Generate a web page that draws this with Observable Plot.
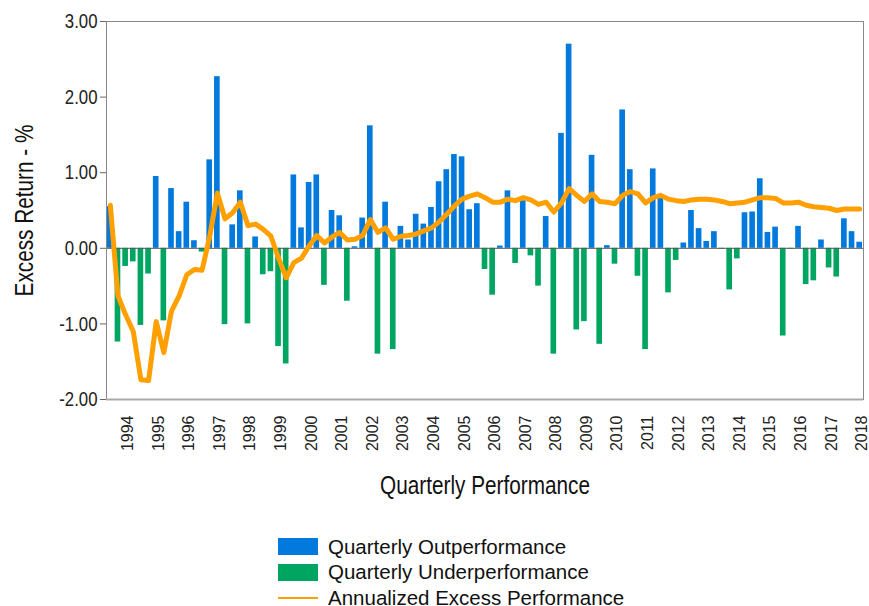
<!DOCTYPE html>
<html><head><meta charset="utf-8">
<script src="https://cdn.jsdelivr.net/npm/d3@7"></script>
<script src="https://cdn.jsdelivr.net/npm/@observablehq/plot@0.6"></script>
<style>
body{margin:0;background:#fff;font-family:"Liberation Sans",Arial,sans-serif;}
#legend{margin-left:278px;margin-top:4px;}
.item{display:flex;align-items:center;height:25.5px;font-size:20.5px;line-height:22px;color:#111;white-space:nowrap;}
.sw{width:40px;height:17px;margin-right:10px;flex:none;}
.ln{width:40px;height:2px;margin-right:10px;flex:none;}
</style></head><body>
<div id="chart"></div>
<div id="legend"></div>
<script>
const startYear = 1993, startQuarter = 2;
const quarterly = [
 0.55,-1.24,-0.24,-0.18,-1.02,-0.34,0.95,-0.96,0.79,0.22,
 0.61,0.10,-0.05,1.17,2.27,-1.01,0.31,0.76,-1.00,0.15,
 -0.35,-0.31,-1.30,-1.53,0.97,0.27,0.87,0.97,-0.49,0.50,
 0.43,-0.70,0.02,0.40,1.62,-1.40,0.61,-1.34,0.29,0.11,
 0.45,0.32,0.54,0.88,1.04,1.24,1.21,0.51,0.59,-0.28,
 -0.62,0.03,0.76,-0.20,0.63,-0.10,-0.50,0.42,-1.40,1.52,
 2.70,-1.08,-0.97,1.23,-1.27,0.035,-0.21,1.83,1.04,-0.37,
 -1.34,1.05,0.68,-0.59,-0.16,0.07,0.50,0.26,0.09,0.22,
 -0.01,-0.55,-0.14,0.47,0.48,0.92,0.21,0.28,-1.16,-0.01,
 0.29,-0.48,-0.43,0.11,-0.26,-0.38,0.39,0.22,0.08
];
const annualized = [
 0.57,-0.63,-0.88,-1.10,-1.74,-1.75,-0.97,-1.38,-0.83,-0.63,
 -0.35,-0.28,-0.29,0.16,0.73,0.39,0.47,0.61,0.30,0.32,
 0.25,0.16,-0.13,-0.39,-0.19,-0.13,0.03,0.17,0.07,0.15,
 0.21,0.11,0.12,0.17,0.38,0.21,0.27,0.12,0.16,0.17,
 0.19,0.23,0.27,0.35,0.45,0.56,0.65,0.69,0.72,0.67,
 0.61,0.61,0.65,0.63,0.67,0.64,0.58,0.61,0.48,0.60,
 0.79,0.70,0.62,0.72,0.62,0.61,0.59,0.70,0.75,0.72,
 0.60,0.67,0.70,0.65,0.63,0.62,0.64,0.65,0.65,0.64,
 0.62,0.59,0.60,0.61,0.64,0.67,0.67,0.66,0.60,0.60,
 0.61,0.57,0.55,0.54,0.53,0.50,0.52,0.52,0.52
];
const yearLabels = [1994,1995,1996,1997,1998,1999,2000,2001,2002,2003,2004,2005,2006,2007,2008,2009,2010,2011,2012,2013,2014,2015,2016,2017,2018];
const yTicks = [-2,-1,0,1,2,3];
const yTitle = "Excess Return - %", xTitle = "Quarterly Performance";
const seriesNames = ["Quarterly Outperformance","Quarterly Underperformance","Annualized Excess Performance"];
const colors = ["#0279dc","#00a562","#ffa000"];

const data = quarterly.map((v,i)=>{
  const t = startYear + (startQuarter-1+i)/4;
  return {t, t2: t+0.25, mid: t+0.125, v, a: annualized[i], s: v >= 0 ? seriesNames[0] : seriesNames[1]};
});

const chart = Plot.plot({
  width: 869, height: 530,
  marginLeft: 106, marginRight: 6, marginTop: 21, marginBottom: 131,
  style: {fontFamily: '"Liberation Sans", Arial, sans-serif', color: "#222", background: "#fff"},
  x: {domain: [data[0].t, data[data.length-1].t2], axis: null},
  y: {domain: [yTicks[0], yTicks[yTicks.length-1]], axis: null},
  color: {domain: seriesNames.slice(0,2), range: colors.slice(0,2)},
  marks: [
    Plot.rectY(data, {x1: "t", x2: "t2", y: "v", fill: "s", insetLeft: 1, insetRight: 1}),
    Plot.ruleY([0], {stroke: "#555", strokeWidth: 1}),
    Plot.line(data, {x: "mid", y: "a", stroke: colors[2], strokeWidth: 5, strokeLinejoin: "round", strokeLinecap: "round"}),
    Plot.frame({stroke: "#888"}),
    Plot.ruleY([yTicks[0]], {stroke: "#aaa", strokeWidth: 2}),
    Plot.axisY(yTicks, {tickSize: 6, tickPadding: 3, tickFormat: d => d.toFixed(2), fontSize: 21, label: null, stroke: "#666"}),
    Plot.axisX(yearLabels, {tickRotate: -90, tickSize: 0, tickPadding: 16, dx: -1.5, fontSize: 16, tickFormat: d => String(d), label: null}),
    Plot.text([yTitle], {frameAnchor: "left", dx: -82, rotate: -90, textAnchor: "middle", lineAnchor: "middle", fontSize: 25, fill: "#111"}),
    Plot.text([xTitle], {frameAnchor: "bottom", dy: 86, textAnchor: "middle", lineAnchor: "middle", fontSize: 25, fill: "#111"})
  ]
});
document.getElementById("chart").appendChild(chart);

function condense(test, s){
  chart.querySelectorAll("text").forEach(t=>{
    if (!test(t.textContent)) return;
    const x = parseFloat(t.getAttribute("x")) || 0;
    const tr = t.getAttribute("transform") || "";
    t.setAttribute("transform", `${tr} translate(${x},0) scale(${s},1) translate(${-x},0)`);
  });
}
condense(s => /^-?\d\.\d\d$/.test(s), 0.8);
condense(s => s === yTitle || s === xTitle, 0.83);

const legend = document.getElementById("legend");
seriesNames.forEach((n,i)=>{
  const row = document.createElement("div"); row.className = "item";
  const sw = document.createElement("div"); sw.className = i < 2 ? "sw" : "ln"; sw.style.background = colors[i];
  const tx = document.createElement("span"); tx.textContent = n;
  row.appendChild(sw); row.appendChild(tx); legend.appendChild(row);
});
</script>
</body></html>
